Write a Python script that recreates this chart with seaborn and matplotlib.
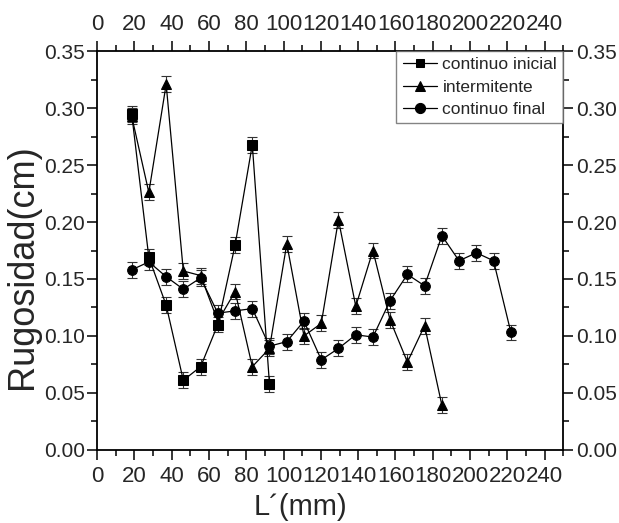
import matplotlib
matplotlib.use("Agg")
import matplotlib.pyplot as plt
from matplotlib.ticker import MultipleLocator, FormatStrFormatter
import pandas as pd
import seaborn as sns

# ── Data ──────────────────────────────────────────────────────
pos_inicial = [18.5, 27.7, 37.0, 46.2, 55.5, 64.7, 74.0, 83.2, 92.4]
rug_inicial = [0.295, 0.169, 0.127, 0.061, 0.073, 0.110, 0.180, 0.268, 0.058]

pos_interm = [18.5, 27.7, 37.0, 46.2, 55.5, 64.7, 74.0, 83.2, 92.4, 101.7,
              110.9, 120.2, 129.4, 138.7, 147.9, 157.1, 166.4, 175.6, 184.9]
rug_interm = [0.293, 0.226, 0.321, 0.157, 0.153, 0.113, 0.139, 0.073, 0.089, 0.181,
              0.100, 0.111, 0.202, 0.126, 0.175, 0.114, 0.077, 0.109, 0.039]

pos_final = [18.5, 27.7, 37.0, 46.2, 55.5, 64.7, 74.0, 83.2, 92.4, 101.7,
             110.9, 120.2, 129.4, 138.7, 147.9, 157.1, 166.4, 175.6, 184.9,
             194.1, 203.4, 212.6, 221.9]
rug_final = [0.158, 0.165, 0.152, 0.141, 0.151, 0.120, 0.122, 0.124, 0.091, 0.095,
             0.113, 0.079, 0.089, 0.101, 0.099, 0.131, 0.154, 0.144, 0.188,
             0.166, 0.173, 0.166, 0.103]

err = 0.007
series = ["continuo inicial", "intermitente", "continuo final"]

df = pd.concat([
    pd.DataFrame({"L": pos_inicial, "R": rug_inicial, "serie": series[0]}),
    pd.DataFrame({"L": pos_interm, "R": rug_interm, "serie": series[1]}),
    pd.DataFrame({"L": pos_final, "R": rug_final, "serie": series[2]}),
], ignore_index=True)

# ── Style ─────────────────────────────────────────────────────
sns.set_style("ticks")
plt.rcParams["font.family"] = ["Liberation Sans Narrow", "Liberation Sans", "DejaVu Sans"]

fig = plt.figure(figsize=(6.19, 5.23), dpi=100)
ax = fig.add_axes([0.157, 0.140, 0.753, 0.762])

markers = {series[0]: "s", series[1]: "^", series[2]: "o"}
msize = {series[0]: 5.8, series[1]: 7.3, series[2]: 7.3}

for s in series:
    sub = df[df["serie"] == s]
    ax.errorbar(sub["L"], sub["R"], yerr=err, fmt="none", ecolor="#333333",
                elinewidth=0.8, capsize=3.5, capthick=0.8, zorder=2)

sns.lineplot(data=df, x="L", y="R", hue="serie", style="serie",
             palette=["black"] * 3, markers=markers, dashes=False,
             linewidth=0.9, markersize=7, markeredgecolor="black",
             sort=False, estimator=None, ax=ax, zorder=3)

for line in ax.get_lines():
    lab = line.get_label()
    if lab in msize:
        line.set_markersize(msize[lab])

ax.set_xlim(0, 250)
ax.set_ylim(0, 0.35)
ax.xaxis.set_major_locator(MultipleLocator(20))
ax.xaxis.set_minor_locator(MultipleLocator(10))
ax.yaxis.set_major_locator(MultipleLocator(0.05))
ax.yaxis.set_minor_locator(MultipleLocator(0.025))
ax.yaxis.set_major_formatter(FormatStrFormatter("%.2f"))
ax.xaxis.set_major_formatter(FormatStrFormatter("%d"))

for sp in ax.spines.values():
    sp.set_visible(True)
    sp.set_linewidth(1.3)
    sp.set_color("black")

ax.tick_params(which="both", direction="out", top=True, right=True,
               labeltop=True, labelright=True, color="black", width=1.1)
ax.tick_params(which="major", length=7, labelsize=15)
ax.tick_params(axis="x", which="major", labelsize=16)
ax.tick_params(which="minor", length=4)
ax.tick_params(axis="x", which="major", pad=5)
ax.tick_params(axis="y", which="major", pad=2)

ax.set_xlabel("L´(mm)", fontsize=21)
ax.set_ylabel("Rugosidad(cm)", fontsize=26)
ax.xaxis.set_label_coords(0.435, -0.108)
ax.yaxis.set_label_coords(-0.122, 0.46)

leg = ax.legend(loc="upper right", fontsize=12.5, frameon=True, fancybox=False,
                edgecolor="#666666", handlelength=2.0, handletextpad=0.3,
                borderaxespad=0.0, borderpad=0.35, labelspacing=0.4)
leg.get_frame().set_linewidth(1.0)

fig.savefig("out.png", dpi=100)
